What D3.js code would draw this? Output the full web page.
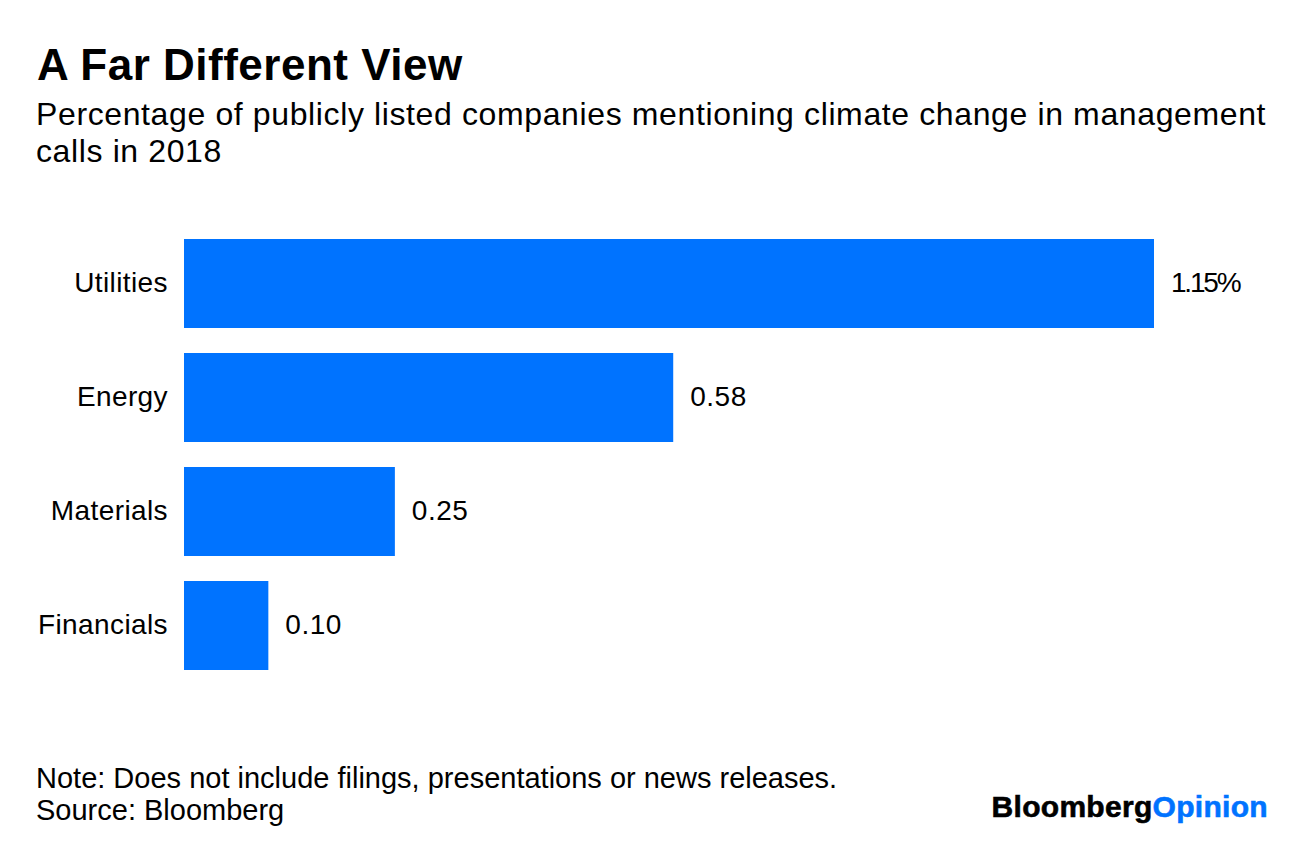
<!DOCTYPE html>
<html>
<head>
<meta charset="utf-8">
<script src="https://cdn.jsdelivr.net/npm/d3@7"></script>
<style>
  body { margin: 0; background: #fff; }
  text { font-family: "Liberation Sans", Arial, sans-serif; fill: #000; }
</style>
</head>
<body>
<svg id="chart" width="1296" height="842"></svg>
<script>
const sectors = ['Utilities', 'Energy', 'Materials', 'Financials'];
const shares = [1.15, 0.58, 0.25, 0.10];
const valueLabels = ['1.15%', '0.58', '0.25', '0.10'];

const barColor = '#0073ff';

var svg = d3.select('#chart');
svg.append('rect').attr('width', 1296).attr('height', 842).attr('fill', '#fff');

svg.append('text')
  .attr('x', 37).attr('y', 80)
  .attr('font-size', 44).attr('font-weight', 'bold')
  .attr('letter-spacing', 0.5)
  .text('A Far Different View');

var subtitle = svg.append('text').attr('font-size', 32).attr('letter-spacing', 0.62);
subtitle.append('tspan').attr('x', 36).attr('y', 125)
  .text('Percentage of publicly listed companies mentioning climate change in management');
subtitle.append('tspan').attr('x', 36).attr('y', 162)
  .text('calls in 2018');

var x = d3.scaleLinear().domain([0, 1.15]).range([184, 1154]);
// bars 89px tall on a 114px step
var y = d3.scaleBand().domain(sectors).range([239, 670]).paddingInner(25 / 114).paddingOuter(0);

var rows = svg.selectAll('.row')
  .data(sectors.map((s, i) => ({ sector: s, value: shares[i], label: valueLabels[i] })))
  .enter()
  .append('g')
  .classed('row', true);

rows.append('rect')
  .attr('x', x(0))
  .attr('y', d => y(d.sector))
  .attr('width', d => x(d.value) - x(0))
  .attr('height', y.bandwidth())
  .attr('fill', barColor);

rows.append('text')
  .attr('x', x(0) - 16)
  .attr('y', d => y(d.sector) + y.bandwidth() / 2)
  .attr('dy', '0.32em')
  .attr('text-anchor', 'end')
  .attr('font-size', 28)
  .attr('letter-spacing', 0.4)
  .text(d => d.sector);

rows.append('text')
  .attr('x', d => x(d.value) + 17)
  .attr('y', d => y(d.sector) + y.bandwidth() / 2)
  .attr('dy', '0.32em')
  .attr('font-size', 28)
  .attr('letter-spacing', d => d.label.indexOf('%') > -1 ? -2.2 : 0.5)
  .text(d => d.label);

svg.append('text')
  .attr('x', 36).attr('y', 788).attr('font-size', 29)
  .text('Note: Does not include filings, presentations or news releases.');
svg.append('text')
  .attr('x', 36).attr('y', 820).attr('font-size', 29)
  .text('Source: Bloomberg');

var logo = svg.append('text')
  .attr('x', 1268).attr('y', 817)
  .attr('text-anchor', 'end')
  .attr('font-size', 30).attr('font-weight', 'bold')
  .attr('stroke-width', 0.6)
  .attr('letter-spacing', 0.3);
logo.append('tspan').attr('stroke', '#000').text('Bloomberg');
logo.append('tspan').attr('fill', barColor).attr('stroke', barColor).text('Opinion');
</script>
</body>
</html>
